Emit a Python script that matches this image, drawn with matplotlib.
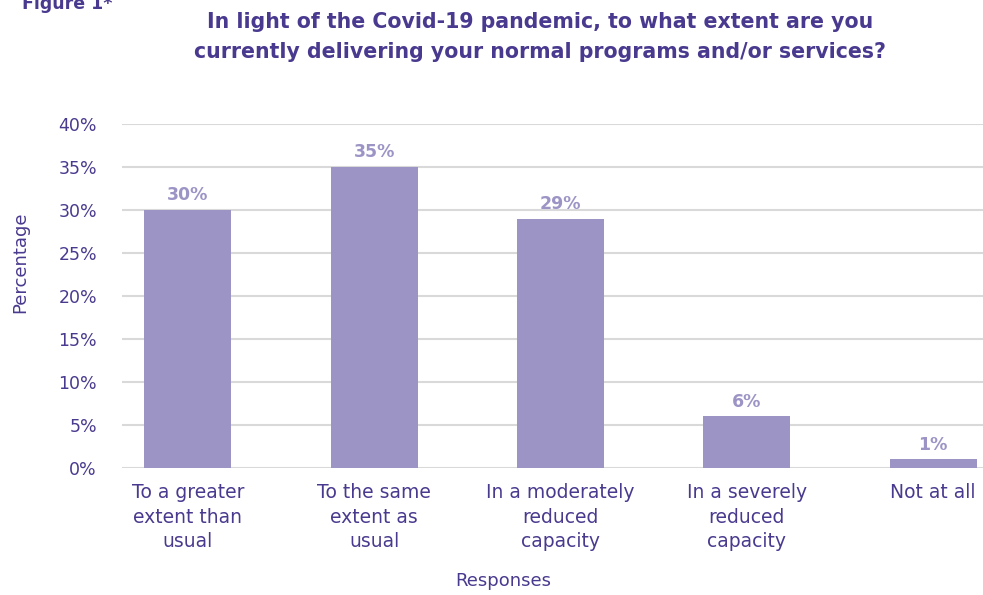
import matplotlib
matplotlib.use("Agg")
import matplotlib.pyplot as plt
from matplotlib.ticker import PercentFormatter

# Survey responses
categories = [
    "To a greater\nextent than\nusual",
    "To the same\nextent as\nusual",
    "In a moderately\nreduced\ncapacity",
    "In a severely\nreduced\ncapacity",
    "Not at all",
]
percentages = [30, 35, 29, 6, 1]
y_ticks = [0, 5, 10, 15, 20, 25, 30, 35, 40]

title_text = ("In light of the Covid-19 pandemic, to what extent are you\n"
              "currently delivering your normal programs and/or services?")

DARK = "#4A3A8F"
BAR = "#9D94C6"
GRID = "#D9D9D9"

plt.rcParams["font.family"] = ["DejaVu Sans"]

fig = plt.figure(figsize=(9.83, 5.95), dpi=100)
ax = fig.add_axes([122 / 983, 1 - 468 / 595, (983 - 122) / 983, (468 - 124) / 595])

x = range(len(categories))
bars = ax.bar(x, percentages, width=0.467, color=BAR, zorder=3)

for rect, v in zip(bars, percentages):
    ax.annotate(f"{v}%", (rect.get_x() + rect.get_width() / 2, v),
                xytext=(0, 4), textcoords="offset points",
                ha="center", va="bottom", color=BAR,
                fontsize=12.5, fontweight="bold")

ax.set_ylim(0, 40)
ax.set_xlim(-0.354, 4.268)
ax.set_yticks(y_ticks)
ax.yaxis.set_major_formatter(PercentFormatter(decimals=0))
ax.set_xticks(list(x))
ax.set_xticklabels(categories, fontsize=13.5, color=DARK, linespacing=1.35)
ax.tick_params(axis="y", labelsize=12.5, colors=DARK, length=0, pad=18)
ax.tick_params(axis="x", length=0, pad=11)

ax.grid(axis="y", color=GRID, linewidth=1.5, zorder=0)
for side in ["top", "right", "left", "bottom"]:
    ax.spines[side].set_visible(False)

fig.text(20 / 983, 1 - 262 / 595, "Percentage", rotation=90,
         ha="center", va="center", fontsize=13, color=DARK)

fig.text(503 / 983, 1 - 581 / 595, "Responses", ha="center", va="center",
         fontsize=13, color=DARK)

fig.text(540 / 983, 1 - 37 / 595, title_text, ha="center", va="center",
         fontsize=14.8, fontweight="bold", color=DARK, linespacing=1.6)

fig.text(22 / 983, 1 - 9 / 595, "Figure 1*", ha="left", va="baseline",
         fontsize=12.5, fontweight="bold", color=DARK)

fig.savefig("out.png", dpi=100)
